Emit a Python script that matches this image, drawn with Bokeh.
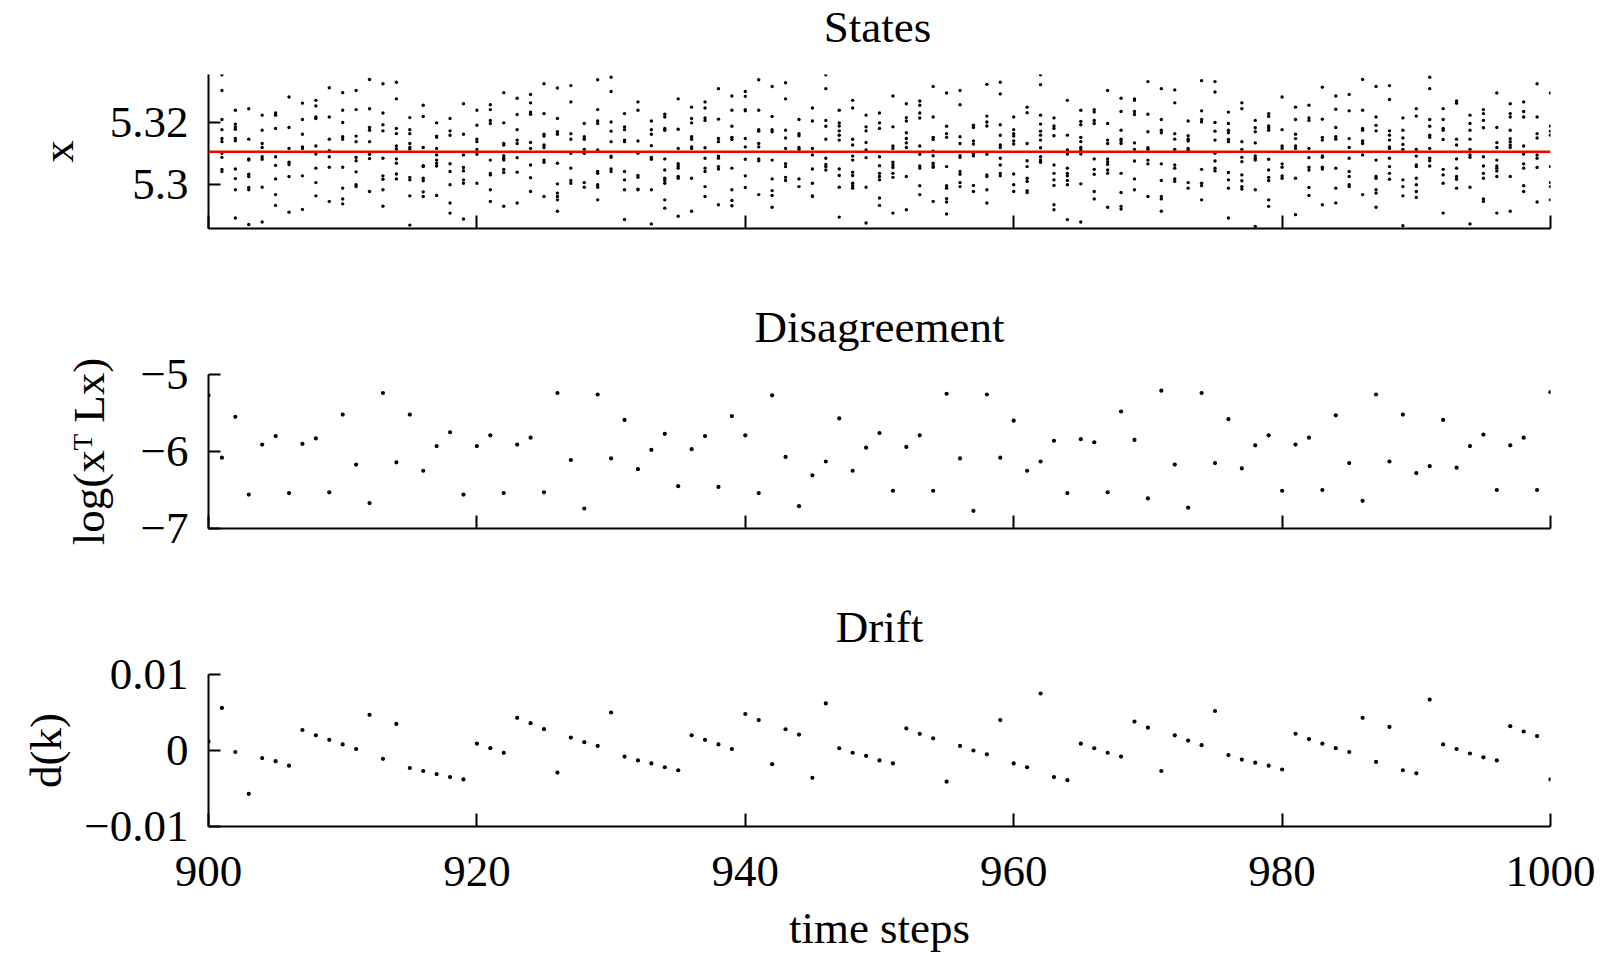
from bokeh.plotting import figure
from bokeh.layouts import column
from bokeh.models import Range1d, FixedTicker, Span, Label
from bokeh.embed import file_html
from bokeh.resources import INLINE

# ---------------- data ----------------
steps = list(range(900, 1001))          # time steps k
state_steps = steps[1:]                 # state columns (k = 901 .. 1000)

x_ticks = [900, 920, 940, 960, 980, 1000]
titles = ["States", "Disagreement", "Drift"]
x_label = "time steps"
y_labels = ["x", "log(x\u1d40 Lx)", "d(k)"]

state_ylim = (5.2856, 5.3356)
state_ticks = [5.30, 5.32]
state_tick_labels = {5.30: "5.3", 5.32: "5.32"}
consensus = 5.3105

dis_ylim = (-7, -5)
dis_ticks = [-7, -6, -5]
dis_tick_labels = {-7: "\u22127", -6: "\u22126", -5: "\u22125"}

drift_ylim = (-0.01, 0.01)
drift_ticks = [-0.01, 0, 0.01]
drift_tick_labels = {-0.01: "\u22120.01", 0: "0", 0.01: "0.01"}

# agent states per time step (901 .. 1000)
states = [
    [5.3355, 5.3304, 5.3210, 5.3177, 5.3148, 5.3138, 5.3100, 5.3087, 5.3048, 5.3041],
    [5.3240, 5.3195, 5.3186, 5.3178, 5.3148, 5.3141, 5.3049, 5.3018, 5.2982, 5.2890],
    [5.3245, 5.3146, 5.3082, 5.3078, 5.3032, 5.3025, 5.2989, 5.2982, 5.2869],
    [5.3224, 5.3175, 5.3132, 5.3119, 5.3089, 5.3081, 5.2990, 5.2877],
    [5.3231, 5.3224, 5.3181, 5.3089, 5.3061, 5.3017, 5.2966, 5.2931],
    [5.3283, 5.3184, 5.3116, 5.3071, 5.3064, 5.3025, 5.2909],
    [5.3263, 5.3210, 5.3162, 5.3121, 5.3116, 5.3027, 5.2918],
    [5.3272, 5.3254, 5.3218, 5.3213, 5.3124, 5.3098, 5.3052, 5.3005, 5.2962],
    [5.3313, 5.3218, 5.3146, 5.3109, 5.3089, 5.3055, 5.2944],
    [5.3297, 5.3240, 5.3200, 5.3154, 5.3146, 5.3055, 5.2987, 5.2952, 5.2936],
    [5.3304, 5.3242, 5.3156, 5.3138, 5.3087, 5.3076, 5.3040, 5.2998, 5.2992],
    [5.3340, 5.3245, 5.3184, 5.3175, 5.3138, 5.3097, 5.3083, 5.2976],
    [5.3326, 5.3231, 5.3193, 5.3173, 5.3084, 5.3027, 5.3016, 5.2982, 5.2928],
    [5.3331, 5.3277, 5.3181, 5.3164, 5.3124, 5.3114, 5.3082, 5.3068, 5.3033, 5.3017],
    [5.3216, 5.3177, 5.3164, 5.3132, 5.3119, 5.3114, 5.3022, 5.3014, 5.2962, 5.2867],
    [5.3256, 5.3220, 5.3119, 5.3060, 5.3057, 5.3019, 5.3011, 5.2975, 5.2960],
    [5.3199, 5.3156, 5.3152, 5.3116, 5.3095, 5.3078, 5.3068, 5.3059, 5.2963],
    [5.3213, 5.3173, 5.3159, 5.3066, 5.3041, 5.2998, 5.2939, 5.2906],
    [5.3261, 5.3162, 5.3095, 5.3054, 5.3043, 5.3014, 5.3003, 5.2887],
    [5.3240, 5.3191, 5.3146, 5.3138, 5.3113, 5.3097, 5.3003],
    [5.3258, 5.3242, 5.3207, 5.3197, 5.3078, 5.3035, 5.3030, 5.2982, 5.2944],
    [5.3297, 5.3199, 5.3132, 5.3127, 5.3092, 5.3084, 5.3078, 5.3048, 5.3038, 5.2928],
    [5.3279, 5.3226, 5.3177, 5.3143, 5.3132, 5.3086, 5.3039, 5.2939],
    [5.3291, 5.3264, 5.3234, 5.3227, 5.3135, 5.3116, 5.3062, 5.3021, 5.2976],
    [5.3326, 5.3229, 5.3162, 5.3156, 5.3127, 5.3119, 5.3078, 5.3071, 5.2960],
    [5.3312, 5.3213, 5.3170, 5.3162, 5.3068, 5.3001, 5.2971, 5.2960, 5.2949, 5.2912],
    [5.3320, 5.3267, 5.3164, 5.3146, 5.3100, 5.3052, 5.3012, 5.3003],
    [5.3197, 5.3154, 5.3146, 5.3113, 5.3100, 5.3005, 5.2990],
    [5.3339, 5.3242, 5.3205, 5.3197, 5.3111, 5.3041, 5.3035, 5.2998, 5.2990, 5.2949],
    [5.3347, 5.3301, 5.3202, 5.3172, 5.3138, 5.3091, 5.3087, 5.3049, 5.3041],
    [5.3229, 5.3186, 5.3177, 5.3143, 5.3138, 5.3041, 5.3014, 5.2982, 5.2885],
    [5.3267, 5.3240, 5.3140, 5.3100, 5.3028, 5.3022, 5.2984, 5.2982],
    [5.3205, 5.3177, 5.3162, 5.3125, 5.3087, 5.3081, 5.2982, 5.2871],
    [5.3227, 5.3218, 5.3181, 5.3175, 5.3082, 5.3046, 5.3019, 5.3012, 5.3003, 5.2949, 5.2922],
    [5.3277, 5.3178, 5.3116, 5.3066, 5.3059, 5.3052, 5.3025, 5.3019, 5.2896],
    [5.3250, 5.3213, 5.3199, 5.3154, 5.3146, 5.3121, 5.3116, 5.3019, 5.2912],
    [5.3267, 5.3247, 5.3215, 5.3207, 5.3118, 5.3084, 5.3052, 5.3041, 5.2992, 5.2960],
    [5.3310, 5.3211, 5.3148, 5.3138, 5.3091, 5.3084, 5.3057, 5.3049, 5.2933],
    [5.3286, 5.3240, 5.3188, 5.3152, 5.3145, 5.3052, 5.2982, 5.2947, 5.2930],
    [5.3301, 5.3285, 5.3242, 5.3238, 5.3148, 5.3121, 5.3081, 5.3027, 5.2989],
    [5.3339, 5.3240, 5.3177, 5.3172, 5.3132, 5.3121, 5.3082, 5.3076, 5.2966],
    [5.3317, 5.3220, 5.3177, 5.3170, 5.3078, 5.3017, 5.2979, 5.2963, 5.2925],
    [5.3329, 5.3277, 5.3175, 5.3150, 5.3116, 5.3066, 5.3057, 5.3022, 5.3012],
    [5.3210, 5.3164, 5.3157, 5.3119, 5.3113, 5.3017, 5.2992],
    [5.3247, 5.3205, 5.3116, 5.3095, 5.3049, 5.3003, 5.2962, 5.2960],
    [5.3355, 5.3310, 5.3207, 5.3188, 5.3146, 5.3084, 5.3064, 5.3057, 5.3046],
    [5.3240, 5.3199, 5.3189, 5.3173, 5.3159, 5.3143, 5.3049, 5.3028, 5.2990, 5.2893],
    [5.3272, 5.3247, 5.3146, 5.3127, 5.3091, 5.3078, 5.3039, 5.3028, 5.3003, 5.2995, 5.2987],
    [5.3224, 5.3186, 5.3173, 5.3135, 5.3111, 5.3086, 5.2990, 5.2874],
    [5.3231, 5.3199, 5.3181, 5.3089, 5.3060, 5.3035, 5.3025, 5.3014, 5.2955, 5.2931],
    [5.3286, 5.3186, 5.3124, 5.3116, 5.3071, 5.3062, 5.3054, 5.3035, 5.3022, 5.2906],
    [5.3261, 5.3216, 5.3205, 5.3167, 5.3148, 5.3134, 5.3119, 5.3025, 5.2917],
    [5.3270, 5.3256, 5.3231, 5.3215, 5.3124, 5.3097, 5.3059, 5.3052, 5.2995, 5.2966],
    [5.3317, 5.3218, 5.3152, 5.3145, 5.3107, 5.3092, 5.3068, 5.3060, 5.3055, 5.2944],
    [5.3296, 5.3188, 5.3164, 5.3152, 5.3057, 5.2995, 5.2987, 5.2953, 5.2942, 5.2903],
    [5.3304, 5.3258, 5.3154, 5.3132, 5.3092, 5.3087, 5.3041, 5.3032, 5.3005, 5.2992],
    [5.3191, 5.3184, 5.3140, 5.3130, 5.3100, 5.3092, 5.2996, 5.2976],
    [5.3324, 5.3221, 5.3202, 5.3189, 5.3097, 5.3030, 5.3025, 5.2982, 5.2939],
    [5.3331, 5.3293, 5.3193, 5.3159, 5.3127, 5.3119, 5.3084, 5.3062, 5.3035, 5.3027],
    [5.3218, 5.3177, 5.3164, 5.3156, 5.3140, 5.3130, 5.3033, 5.2998, 5.2976],
    [5.3250, 5.3232, 5.3132, 5.3076, 5.3057, 5.3019, 5.3009, 5.2979, 5.2973],
    [5.3355, 5.3323, 5.3224, 5.3195, 5.3172, 5.3159, 5.3143, 5.3118, 5.3089, 5.3078, 5.3071],
    [5.3215, 5.3189, 5.3181, 5.3157, 5.3062, 5.3035, 5.3014, 5.2996, 5.2933, 5.2917],
    [5.3272, 5.3159, 5.3111, 5.3098, 5.3052, 5.3035, 5.3027, 5.3012, 5.2998, 5.2885],
    [5.3240, 5.3204, 5.3193, 5.3152, 5.3138, 5.3119, 5.3111, 5.3098, 5.3001, 5.2877],
    [5.3242, 5.3234, 5.3207, 5.3197, 5.3082, 5.3048, 5.3032, 5.2976, 5.2952],
    [5.3304, 5.3197, 5.3143, 5.3132, 5.3082, 5.3073, 5.3064, 5.3046, 5.3035, 5.2925],
    [5.3279, 5.3236, 5.3175, 5.3146, 5.3140, 5.3132, 5.3035, 5.2973, 5.2928, 5.2919],
    [5.3277, 5.3272, 5.3236, 5.3226, 5.3134, 5.3113, 5.3075, 5.3017, 5.2982],
    [5.3333, 5.3227, 5.3170, 5.3118, 5.3113, 5.3078, 5.3066, 5.2960],
    [5.3310, 5.3210, 5.3175, 5.3167, 5.3066, 5.3012, 5.2960, 5.2952, 5.2912],
    [5.3306, 5.3264, 5.3164, 5.3146, 5.3113, 5.3062, 5.3052, 5.3017, 5.3009],
    [5.3205, 5.3157, 5.3146, 5.3140, 5.3116, 5.3111, 5.3005, 5.2987],
    [5.3336, 5.3238, 5.3210, 5.3202, 5.3048, 5.3003, 5.2995, 5.2949],
    [5.3333, 5.3299, 5.3200, 5.3172, 5.3143, 5.3100, 5.3075, 5.3052, 5.3043],
    [5.3234, 5.3197, 5.3175, 5.3167, 5.3145, 5.3138, 5.3038, 5.3014, 5.2987, 5.2890],
    [5.3264, 5.3245, 5.3138, 5.3113, 5.3087, 5.3073, 5.3030, 5.3011, 5.2992, 5.2984],
    [5.3207, 5.3183, 5.3170, 5.3134, 5.3092, 5.3084, 5.3078, 5.2982, 5.2863],
    [5.3229, 5.3220, 5.3189, 5.3183, 5.3175, 5.3081, 5.3046, 5.3022, 5.3012, 5.2949, 5.2928],
    [5.3283, 5.3177, 5.3124, 5.3116, 5.3066, 5.3055, 5.3027, 5.3019],
    [5.3250, 5.3210, 5.3162, 5.3148, 5.3124, 5.3116, 5.3019, 5.2901],
    [5.3256, 5.3215, 5.3207, 5.3116, 5.3086, 5.3055, 5.3046, 5.2989, 5.2963],
    [5.3315, 5.3211, 5.3152, 5.3143, 5.3092, 5.3087, 5.3055, 5.3049, 5.2933],
    [5.3286, 5.3243, 5.3184, 5.3154, 5.3146, 5.3052, 5.2987, 5.2939],
    [5.3291, 5.3238, 5.3148, 5.3119, 5.3084, 5.3041, 5.3025, 5.2998, 5.2992],
    [5.3340, 5.3240, 5.3181, 5.3175, 5.3140, 5.3132, 5.3095, 5.2966],
    [5.3317, 5.3218, 5.3191, 5.3173, 5.3078, 5.3025, 5.3019, 5.2982, 5.2971, 5.2925],
    [5.3320, 5.3275, 5.3173, 5.3159, 5.3143, 5.3121, 5.3116, 5.3084, 5.3057, 5.3035, 5.3016],
    [5.3215, 5.3175, 5.3150, 5.3129, 5.3113, 5.3014, 5.2992, 5.2962, 5.2865],
    [5.3245, 5.3221, 5.3113, 5.3091, 5.3062, 5.3057, 5.3019, 5.2998, 5.2976, 5.2957],
    [5.3347, 5.3310, 5.3210, 5.3188, 5.3159, 5.3152, 5.3116, 5.3084, 5.3076, 5.3059],
    [5.3245, 5.3210, 5.3181, 5.3175, 5.3145, 5.3048, 5.3030, 5.3003, 5.2906],
    [5.3270, 5.3263, 5.3146, 5.3127, 5.3082, 5.3052, 5.3025, 5.3016, 5.2987],
    [5.3224, 5.3197, 5.3175, 5.3146, 5.3113, 5.3095, 5.3087, 5.2990, 5.2871],
    [5.3242, 5.3229, 5.3207, 5.3183, 5.3089, 5.3059, 5.3035, 5.3019, 5.2952, 5.2944],
    [5.3296, 5.3184, 5.3135, 5.3119, 5.3078, 5.3059, 5.3052, 5.3043, 5.3025, 5.2906],
    [5.3261, 5.3229, 5.3218, 5.3175, 5.3148, 5.3138, 5.3127, 5.3119, 5.3025, 5.2912],
    [5.3267, 5.3236, 5.3218, 5.3124, 5.3098, 5.3066, 5.3052, 5.2995, 5.2976],
    [5.3326, 5.3218, 5.3164, 5.3150, 5.3095, 5.3084, 5.3054, 5.2942],
    [5.3296, 5.3189, 5.3172, 5.3159, 5.3057, 5.3005, 5.2992, 5.2949],
]

# log(x^T L x) per time step (900 .. 1000)
disagreement = [
    -5.27, -6.08, -5.55, -6.56, -5.91, -5.80, -6.54, -5.90, -5.83, -6.53,
    -5.52, -6.17, -6.67, -5.24, -6.14, -5.52, -6.25, -5.93, -5.75, -6.56,
    -5.93, -5.79, -6.54, -5.91, -5.82, -6.53, -5.24, -6.11, -6.74, -5.26,
    -6.09, -5.59, -6.23, -5.98, -5.77, -6.45, -5.97, -5.80, -6.46, -5.54,
    -5.79, -6.54, -5.27, -6.07, -6.71, -6.31, -6.13, -5.57, -6.25, -5.95,
    -5.76, -6.51, -5.94, -5.79, -6.51, -5.25, -6.09, -6.77, -5.26, -6.08,
    -5.60, -6.25, -6.13, -5.86, -6.54, -5.84, -5.88, -6.53, -5.48, -5.85,
    -6.61, -5.21, -6.17, -6.73, -5.24, -6.15, -5.58, -6.22, -5.92, -5.79,
    -6.51, -5.91, -5.82, -6.50, -5.53, -6.15, -6.64, -5.26, -6.13, -5.52,
    -6.28, -6.19, -5.59, -6.21, -5.93, -5.78, -6.50, -5.92, -5.82, -6.50,
    -5.23,
]

# drift d(k) per time step (900 .. 1000)
drift = [
    0.0012, 0.0056, -0.0002, -0.0057, -0.0010, -0.0014, -0.0020, 0.0027, 0.0020, 0.0014,
    0.0008, 0.0002, 0.0047, -0.0011, 0.0035, -0.0023, -0.0027, -0.0031, -0.0035, -0.0038,
    0.0009, 0.0003, -0.0003, 0.0043, 0.0036, 0.0028, -0.0029, 0.0017, 0.0011, 0.0006,
    0.0050, -0.0008, -0.0013, -0.0017, -0.0022, -0.0026, 0.0020, 0.0014, 0.0008, 0.0002,
    0.0048, 0.0040, -0.0018, 0.0028, 0.0021, -0.0036, 0.0062, 0.0003, -0.0003, -0.0007,
    -0.0013, -0.0017, 0.0029, 0.0022, 0.0016, -0.0041, 0.0006, 0.0000, -0.0005, 0.0040,
    -0.0017, -0.0022, 0.0075, -0.0035, -0.0039, 0.0009, 0.0003, -0.0003, -0.0008, 0.0038,
    0.0030, -0.0027, 0.0020, 0.0013, 0.0007, 0.0052, -0.0006, -0.0012, -0.0016, -0.0020,
    -0.0025, 0.0022, 0.0015, 0.0009, 0.0003, -0.0002, 0.0043, -0.0015, 0.0031, -0.0026,
    -0.0030, 0.0067, 0.0008, 0.0002, -0.0004, -0.0009, -0.0013, 0.0032, 0.0025, 0.0019,
    -0.0038,
]

# ---------------- styling ----------------
FONT = "Liberation Serif"
FS = "45px"
FRAME_W = 1342


def make_panel(title, ylabel, ylim, yticks, ytick_labels, ylabel_standoff,
               height, top, bottom, show_x, title_as_label):
    p = figure(width=1600, height=height,
               x_range=Range1d(steps[0], steps[-1]), y_range=Range1d(*ylim),
               output_backend="svg", toolbar_location=None,
               min_border_left=208, min_border_right=1600 - 208 - FRAME_W,
               min_border_top=top, min_border_bottom=bottom)
    p.outline_line_color = None
    p.xgrid.visible = False
    p.ygrid.visible = False
    p.background_fill_color = "white"
    p.border_fill_color = "white"

    if title_as_label:
        # title drawn in the (narrow) top border panel
        p.add_layout(Label(x=FRAME_W / 2 - 2, y=48, x_units="screen", y_units="screen",
                           text=title, text_font=FONT, text_font_size=FS, text_color="black",
                           text_align="center", text_baseline="alphabetic"), "above")
    else:
        p.title.text = title
        p.title.text_font = FONT
        p.title.text_font_size = FS
        p.title.text_font_style = "normal"
        p.title.text_color = "black"
        p.title.align = "center"
        p.title.standoff = 46

    xa, ya = p.xaxis[0], p.yaxis[0]
    for ax in (xa, ya):
        ax.axis_line_width = 2
        ax.axis_line_color = "black"
        ax.major_tick_line_width = 2
        ax.major_tick_line_color = "black"
        ax.major_tick_out = 0
        ax.minor_tick_line_color = None
        ax.major_label_text_font = FONT
        ax.major_label_text_font_size = FS
        ax.major_label_text_color = "black"
        ax.axis_label_text_font = FONT
        ax.axis_label_text_font_size = FS
        ax.axis_label_text_font_style = "normal"
        ax.axis_label_text_color = "black"
    xa.major_tick_in = 13
    ya.major_tick_in = 12

    xa.ticker = FixedTicker(ticks=x_ticks)
    if show_x:
        xa.major_label_overrides = {t: str(t) for t in x_ticks}
        xa.major_label_standoff = 30
        xa.axis_label = x_label
        xa.axis_label_standoff = 14
    else:
        xa.major_label_overrides = {t: "" for t in x_ticks}

    ya.ticker = FixedTicker(ticks=yticks)
    ya.major_label_overrides = ytick_labels
    ya.major_label_standoff = 20
    ya.axis_label = ylabel
    ya.axis_label_standoff = ylabel_standoff
    return p


p1 = make_panel(titles[0], y_labels[0], state_ylim, state_ticks, state_tick_labels, 24,
                height=275, top=74, bottom=47, show_x=False, title_as_label=True)
xs = [k for k, col in zip(state_steps, states) for _ in col]
ys = [v for col in states for v in col]
p1.scatter(xs, ys, size=3.4, fill_color="black", line_color=None)
p1.add_layout(Span(location=consensus, dimension="width", line_color="#ff0000", line_width=2.5))

p2 = make_panel(titles[1], y_labels[1], dis_ylim, dis_ticks, dis_tick_labels, 24,
                height=300, top=99, bottom=47, show_x=False, title_as_label=False)
p2.scatter(steps, disagreement, size=4.2, fill_color="black", line_color=None)

p3 = make_panel(titles[2], y_labels[2], drift_ylim, drift_ticks, drift_tick_labels, 10,
                height=380, top=99, bottom=127, show_x=True, title_as_label=False)
p3.scatter(steps, drift, size=4.2, fill_color="black", line_color=None)

layout = column(p1, p2, p3)
open("out.html", "w").write(file_html(layout, INLINE))
